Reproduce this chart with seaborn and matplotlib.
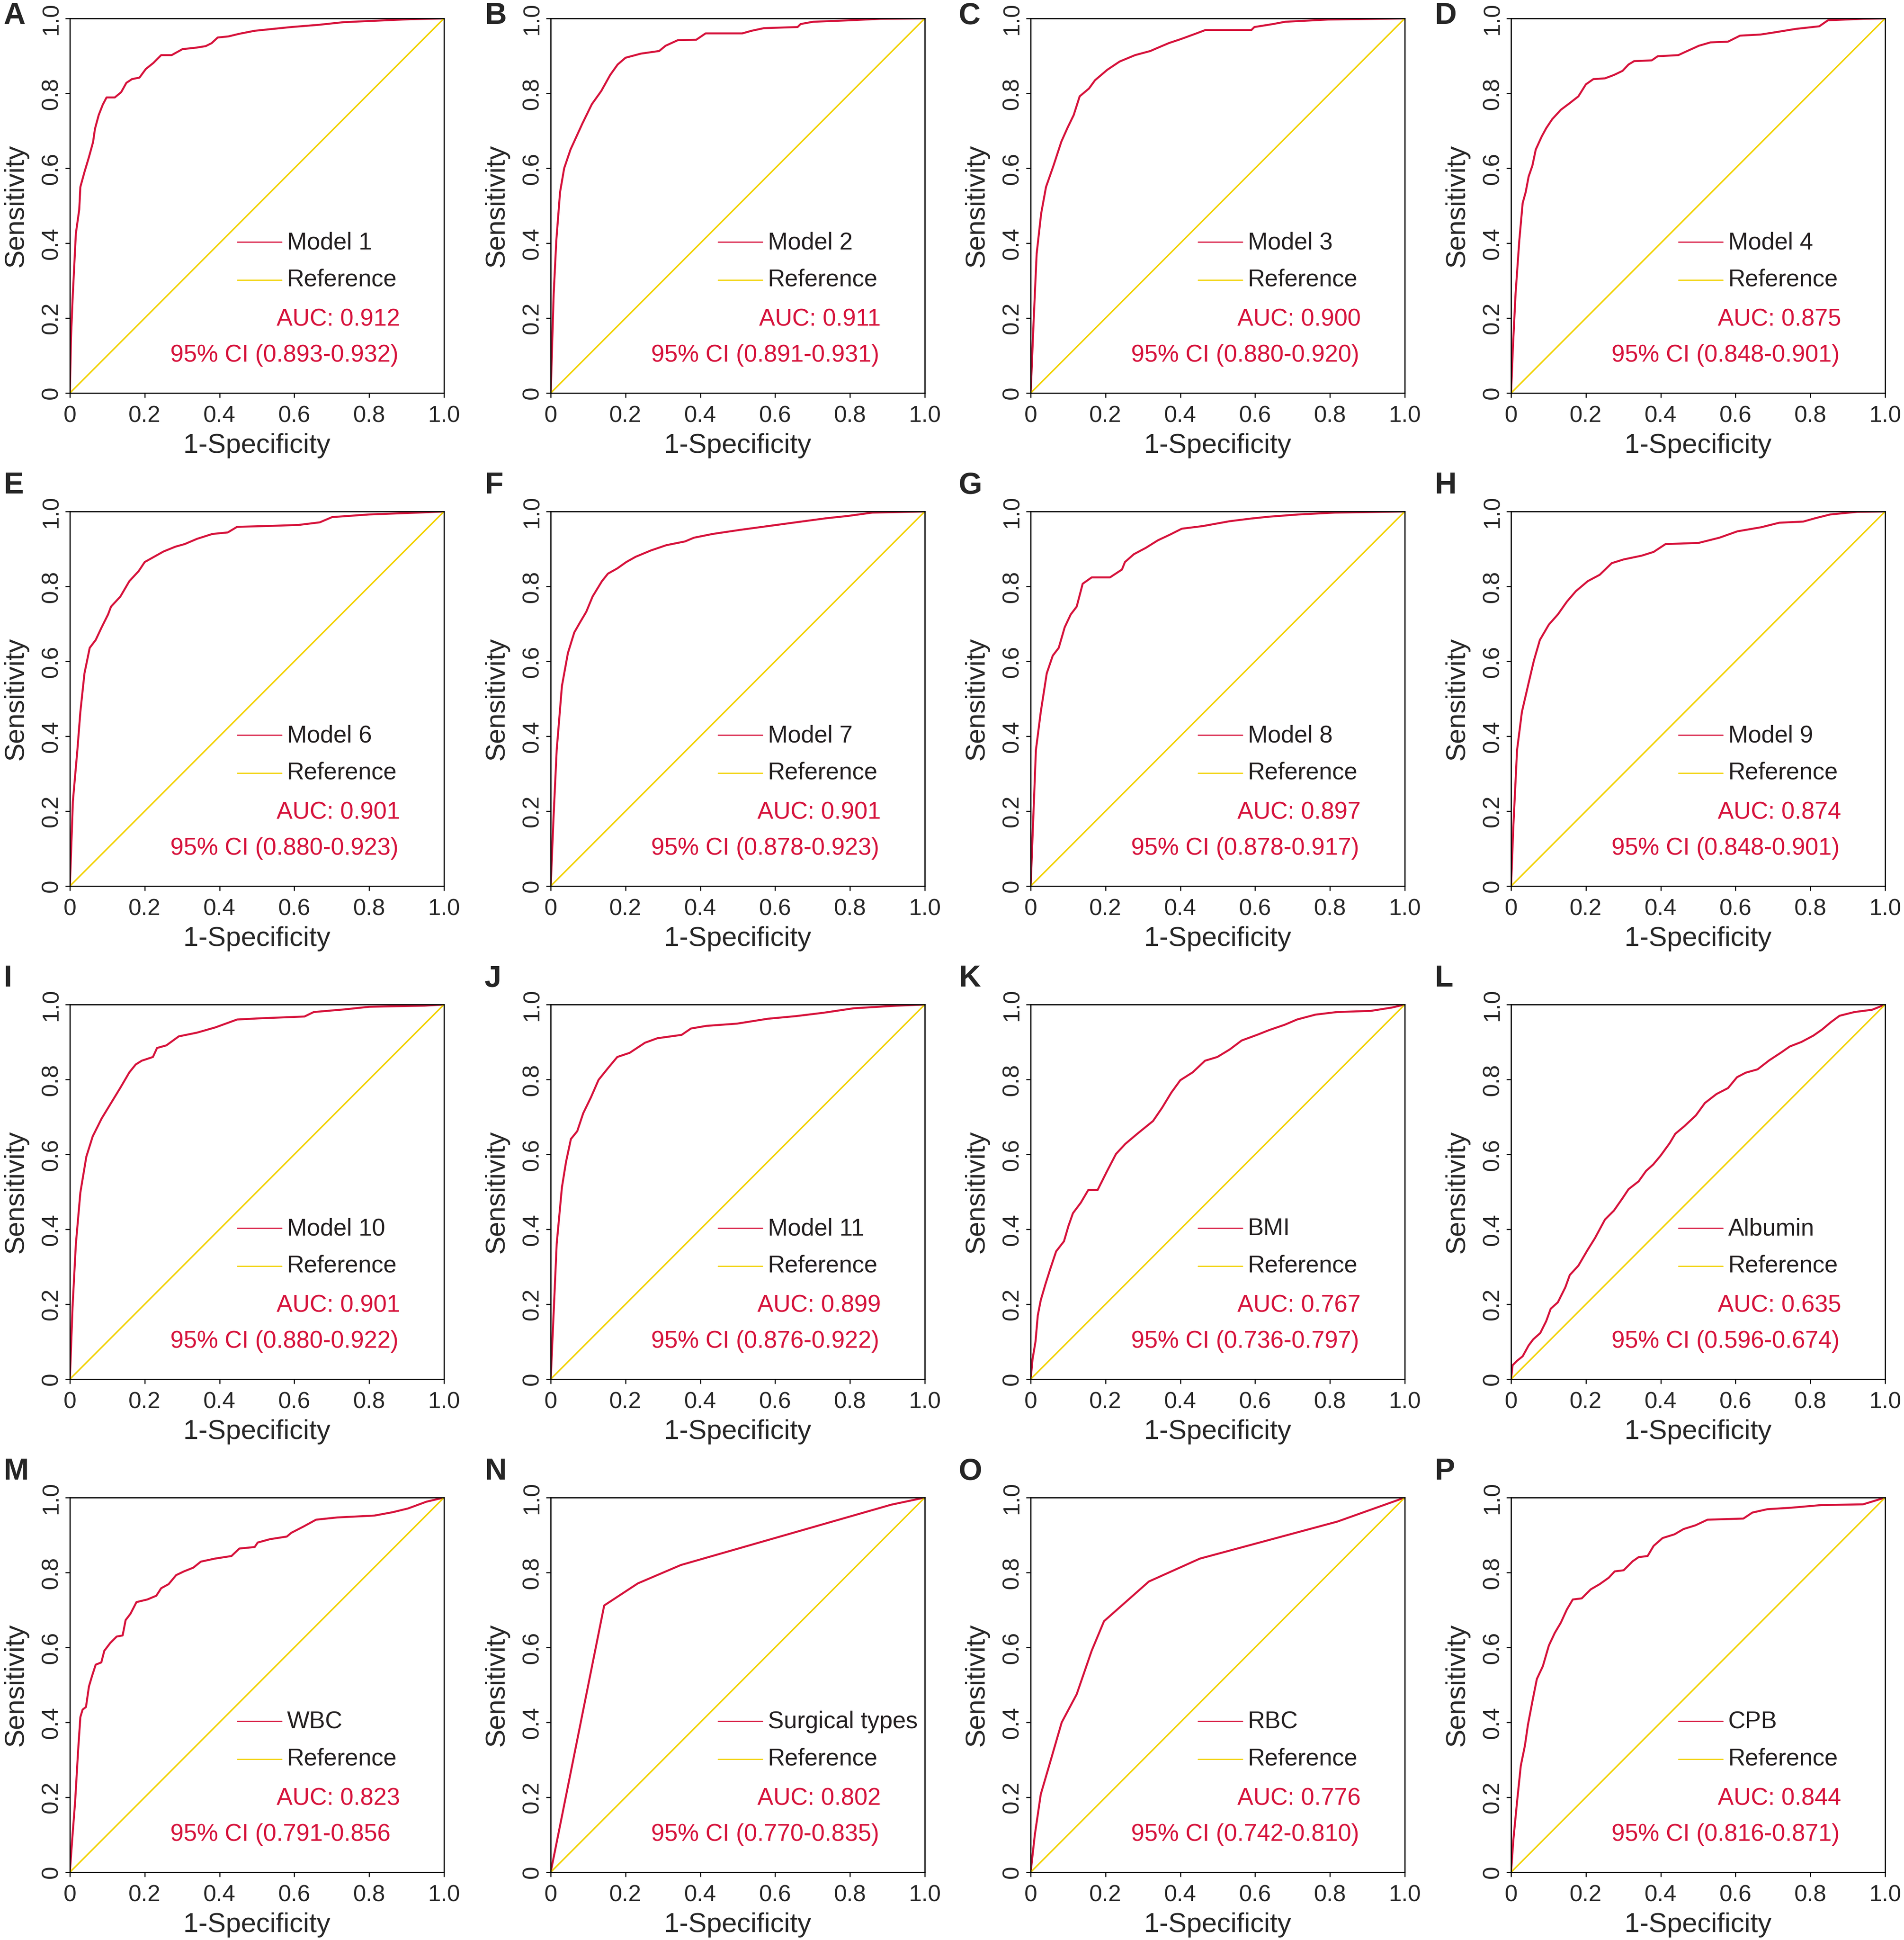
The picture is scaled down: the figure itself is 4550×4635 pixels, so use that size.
import matplotlib
matplotlib.use('Agg')
import matplotlib.pyplot as plt
import seaborn as sns

RED = '#D6123B'
YELLOW = '#F2D200'

# ROC curves, (1-specificity, sensitivity)
A_ROC = [(0, 0), (0.003, 0.148), (0.007, 0.246), (0.016, 0.426), (0.025, 0.49), (0.028, 0.55),
         (0.039, 0.59), (0.051, 0.63), (0.062, 0.67), (0.067, 0.705), (0.077, 0.742), (0.088, 0.77),
         (0.098, 0.789), (0.12, 0.789), (0.137, 0.803), (0.151, 0.828), (0.166, 0.838), (0.186, 0.842),
         (0.203, 0.865), (0.223, 0.881), (0.244, 0.902), (0.272, 0.902), (0.301, 0.918), (0.338, 0.922),
         (0.363, 0.926), (0.379, 0.934), (0.395, 0.949), (0.424, 0.952), (0.453, 0.959), (0.494, 0.967),
         (0.543, 0.972), (0.592, 0.977), (0.666, 0.983), (0.732, 0.99), (0.912, 0.998), (1, 1)]
B_ROC = [(0, 0), (0.008, 0.265), (0.015, 0.407), (0.025, 0.536), (0.036, 0.60), (0.053, 0.65),
         (0.069, 0.685), (0.085, 0.72), (0.11, 0.771), (0.135, 0.806), (0.159, 0.849), (0.179, 0.877),
         (0.2, 0.895), (0.241, 0.906), (0.29, 0.913), (0.307, 0.927), (0.34, 0.942), (0.389, 0.943),
         (0.414, 0.96), (0.512, 0.96), (0.537, 0.967), (0.57, 0.974), (0.66, 0.977), (0.668, 0.985),
         (0.701, 0.991), (0.80, 0.995), (0.882, 0.999), (1, 1)]
C_ROC = [(0, 0), (0.008, 0.194), (0.016, 0.372), (0.028, 0.479), (0.041, 0.55), (0.061, 0.607),
         (0.082, 0.671), (0.098, 0.707), (0.115, 0.742), (0.131, 0.792), (0.156, 0.813), (0.172, 0.835),
         (0.205, 0.863), (0.238, 0.885), (0.279, 0.902), (0.32, 0.913), (0.336, 0.92), (0.369, 0.934),
         (0.402, 0.945), (0.443, 0.96), (0.467, 0.969), (0.59, 0.969), (0.598, 0.977), (0.648, 0.985),
         (0.68, 0.991), (0.795, 0.997), (1, 1)]
D_ROC = [(0, 0), (0.005, 0.123), (0.012, 0.265), (0.022, 0.407), (0.031, 0.507), (0.039, 0.536),
         (0.047, 0.578), (0.057, 0.607), (0.066, 0.65), (0.082, 0.685), (0.094, 0.707), (0.11, 0.731),
         (0.133, 0.756), (0.157, 0.774), (0.18, 0.792), (0.2, 0.824), (0.22, 0.838), (0.251, 0.84),
         (0.275, 0.849), (0.298, 0.86), (0.314, 0.877), (0.329, 0.886), (0.376, 0.888), (0.392, 0.899),
         (0.447, 0.902), (0.471, 0.913), (0.502, 0.927), (0.533, 0.936), (0.58, 0.938), (0.612, 0.954),
         (0.667, 0.957), (0.706, 0.963), (0.761, 0.972), (0.824, 0.979), (0.847, 0.995), (0.941, 0.999),
         (1, 1)]
E_ROC = [(0, 0), (0.008, 0.226), (0.02, 0.363), (0.028, 0.465), (0.039, 0.568), (0.053, 0.636),
         (0.069, 0.657), (0.085, 0.691), (0.102, 0.725), (0.11, 0.746), (0.135, 0.773), (0.159, 0.814),
         (0.184, 0.841), (0.2, 0.865), (0.225, 0.879), (0.25, 0.893), (0.282, 0.906), (0.307, 0.913),
         (0.34, 0.927), (0.381, 0.94), (0.422, 0.944), (0.447, 0.959), (0.521, 0.961), (0.611, 0.964),
         (0.668, 0.971), (0.701, 0.985), (0.80, 0.992), (0.931, 0.997), (1, 1)]
F_ROC = [(0, 0), (0.008, 0.192), (0.016, 0.363), (0.03, 0.534), (0.046, 0.622), (0.063, 0.677),
         (0.079, 0.705), (0.095, 0.732), (0.112, 0.773), (0.137, 0.814), (0.153, 0.834), (0.178, 0.848),
         (0.202, 0.865), (0.227, 0.879), (0.268, 0.896), (0.309, 0.91), (0.359, 0.92), (0.383, 0.93),
         (0.433, 0.94), (0.507, 0.951), (0.581, 0.961), (0.655, 0.971), (0.737, 0.982), (0.794, 0.988),
         (0.86, 0.997), (1, 1)]
G_ROC = [(0, 0), (0.006, 0.157), (0.014, 0.363), (0.027, 0.465), (0.043, 0.568), (0.059, 0.615),
         (0.075, 0.636), (0.091, 0.691), (0.107, 0.725), (0.123, 0.746), (0.139, 0.807), (0.163, 0.824),
         (0.212, 0.824), (0.244, 0.845), (0.252, 0.865), (0.276, 0.886), (0.308, 0.903), (0.34, 0.923),
         (0.372, 0.938), (0.404, 0.954), (0.46, 0.961), (0.532, 0.974), (0.588, 0.981), (0.636, 0.986),
         (0.716, 0.992), (0.813, 0.997), (1, 1)]
H_ROC = [(0, 0), (0.006, 0.157), (0.016, 0.363), (0.029, 0.465), (0.045, 0.534), (0.061, 0.602),
         (0.077, 0.657), (0.101, 0.698), (0.125, 0.725), (0.149, 0.759), (0.173, 0.787), (0.205, 0.814),
         (0.237, 0.831), (0.269, 0.862), (0.301, 0.872), (0.349, 0.882), (0.381, 0.892), (0.413, 0.913),
         (0.501, 0.916), (0.557, 0.93), (0.605, 0.947), (0.669, 0.958), (0.717, 0.97), (0.781, 0.973),
         (0.813, 0.982), (0.853, 0.992), (0.925, 0.999), (1, 1)]
I_ROC = [(0, 0), (0.007, 0.19), (0.016, 0.361), (0.028, 0.498), (0.044, 0.594), (0.061, 0.648),
         (0.085, 0.696), (0.11, 0.737), (0.135, 0.778), (0.159, 0.819), (0.176, 0.84), (0.192, 0.85),
         (0.222, 0.86), (0.233, 0.884), (0.258, 0.891), (0.291, 0.915), (0.34, 0.925), (0.389, 0.939),
         (0.447, 0.96), (0.504, 0.963), (0.627, 0.968), (0.652, 0.98), (0.734, 0.987), (0.80, 0.994),
         (0.947, 0.997), (1, 1)]
J_ROC = [(0, 0), (0.007, 0.156), (0.016, 0.361), (0.03, 0.512), (0.041, 0.58), (0.054, 0.641),
         (0.071, 0.662), (0.087, 0.71), (0.107, 0.751), (0.128, 0.799), (0.153, 0.83), (0.178, 0.86),
         (0.211, 0.871), (0.252, 0.898), (0.285, 0.91), (0.35, 0.919), (0.375, 0.936), (0.416, 0.943),
         (0.498, 0.949), (0.58, 0.962), (0.655, 0.969), (0.729, 0.978), (0.81, 0.99), (0.926, 0.997),
         (1, 1)]
K_ROC = [(0, 0), (0.005, 0.053), (0.013, 0.101), (0.019, 0.17), (0.027, 0.211), (0.039, 0.252),
         (0.052, 0.293), (0.068, 0.341), (0.089, 0.368), (0.101, 0.409), (0.113, 0.443), (0.134, 0.471),
         (0.154, 0.505), (0.179, 0.505), (0.203, 0.553), (0.228, 0.601), (0.253, 0.628), (0.285, 0.655),
         (0.327, 0.689), (0.351, 0.724), (0.376, 0.765), (0.4, 0.798), (0.433, 0.819), (0.466, 0.85),
         (0.499, 0.86), (0.532, 0.88), (0.564, 0.904), (0.605, 0.919), (0.638, 0.932), (0.679, 0.946),
         (0.712, 0.96), (0.761, 0.973), (0.819, 0.98), (0.909, 0.983), (0.966, 0.992), (1, 1)]
L_ROC = [(0, 0), (0.004, 0.037), (0.016, 0.049), (0.031, 0.061), (0.047, 0.09), (0.059, 0.106),
         (0.078, 0.123), (0.094, 0.155), (0.106, 0.188), (0.125, 0.205), (0.145, 0.245), (0.157, 0.278),
         (0.18, 0.303), (0.204, 0.344), (0.224, 0.376), (0.251, 0.426), (0.275, 0.45), (0.298, 0.483),
         (0.314, 0.507), (0.341, 0.528), (0.361, 0.556), (0.38, 0.573), (0.4, 0.597), (0.424, 0.63),
         (0.439, 0.655), (0.463, 0.675), (0.494, 0.704), (0.518, 0.737), (0.549, 0.761), (0.58, 0.777),
         (0.604, 0.806), (0.627, 0.818), (0.659, 0.827), (0.69, 0.851), (0.722, 0.872), (0.745, 0.888),
         (0.776, 0.9), (0.808, 0.917), (0.831, 0.933), (0.855, 0.953), (0.878, 0.97), (0.918, 0.98),
         (0.965, 0.986), (1, 1)]
M_ROC = [(0, 0), (0.006, 0.085), (0.014, 0.188), (0.022, 0.325), (0.028, 0.414), (0.034, 0.434),
         (0.043, 0.441), (0.051, 0.496), (0.059, 0.523), (0.069, 0.554), (0.084, 0.56), (0.092, 0.591),
         (0.108, 0.612), (0.125, 0.629), (0.141, 0.632), (0.149, 0.673), (0.162, 0.69), (0.178, 0.721),
         (0.207, 0.728), (0.231, 0.738), (0.244, 0.758), (0.264, 0.769), (0.284, 0.793), (0.305, 0.803),
         (0.33, 0.813), (0.35, 0.829), (0.387, 0.837), (0.432, 0.844), (0.453, 0.864), (0.494, 0.868),
         (0.502, 0.88), (0.535, 0.889), (0.58, 0.896), (0.592, 0.906), (0.625, 0.923), (0.658, 0.941),
         (0.715, 0.947), (0.814, 0.952), (0.863, 0.961), (0.904, 0.971), (0.953, 0.989), (1, 1)]
N_ROC = [(0, 0), (0.143, 0.712), (0.233, 0.771), (0.348, 0.82), (0.91, 0.981), (1, 1)]
O_ROC = [(0, 0), (0.011, 0.099), (0.027, 0.208), (0.051, 0.29), (0.083, 0.4), (0.123, 0.475),
         (0.163, 0.591), (0.196, 0.67), (0.316, 0.776), (0.452, 0.837), (0.82, 0.936), (1, 1)]
P_ROC = [(0, 0), (0.006, 0.085), (0.016, 0.188), (0.026, 0.284), (0.037, 0.338), (0.045, 0.393),
         (0.058, 0.461), (0.069, 0.516), (0.085, 0.55), (0.101, 0.605), (0.117, 0.639), (0.133, 0.666),
         (0.149, 0.701), (0.165, 0.728), (0.189, 0.731), (0.213, 0.755), (0.237, 0.769), (0.261, 0.786),
         (0.277, 0.803), (0.301, 0.806), (0.325, 0.83), (0.341, 0.841), (0.365, 0.844), (0.381, 0.871),
         (0.405, 0.892), (0.437, 0.902), (0.461, 0.916), (0.493, 0.926), (0.525, 0.941), (0.621, 0.944),
         (0.645, 0.96), (0.685, 0.969), (0.749, 0.973), (0.829, 0.98), (0.941, 0.982), (1, 1)]

LETTERS = list('ABCDEFGHIJKLMNOP')
NAMES = ['Model 1', 'Model 2', 'Model 3', 'Model 4',
         'Model 6', 'Model 7', 'Model 8', 'Model 9',
         'Model 10', 'Model 11', 'BMI', 'Albumin',
         'WBC', 'Surgical types', 'RBC', 'CPB']
AUC = ['0.912', '0.911', '0.900', '0.875',
       '0.901', '0.901', '0.897', '0.874',
       '0.901', '0.899', '0.767', '0.635',
       '0.823', '0.802', '0.776', '0.844']
CI = ['(0.893-0.932)', '(0.891-0.931)', '(0.880-0.920)', '(0.848-0.901)',
      '(0.880-0.923)', '(0.878-0.923)', '(0.878-0.917)', '(0.848-0.901)',
      '(0.880-0.922)', '(0.876-0.922)', '(0.736-0.797)', '(0.596-0.674)',
      '(0.791-0.856', '(0.770-0.835)', '(0.742-0.810)', '(0.816-0.871)']
ROCS = [A_ROC, B_ROC, C_ROC, D_ROC, E_ROC, F_ROC, G_ROC, H_ROC,
        I_ROC, J_ROC, K_ROC, L_ROC, M_ROC, N_ROC, O_ROC, P_ROC]
TICKS = [0, 0.2, 0.4, 0.6, 0.8, 1.0]
TICK_LABELS = ['0', '0.2', '0.4', '0.6', '0.8', '1.0']

sns.set_style('ticks')
plt.rcParams['font.family'] = ['Liberation Sans', 'DejaVu Sans']

W, H = 4550, 4635
fig = plt.figure(figsize=(W / 100, H / 100), dpi=100)

col_left = [167, 1316, 2463, 3611]
row_top = [44, 1222, 2400, 3578]
letter_left = [8, 1158, 2291, 3428]
letter_top = [4, 1126, 2304, 3482]
aw, ah = 894, 895

for i, roc in enumerate(ROCS):
    r, c = divmod(i, 4)
    ax = fig.add_axes([col_left[c] / W, 1 - (row_top[r] + ah) / H, aw / W, ah / H])
    fpr = [p[0] for p in roc]
    tpr = [p[1] for p in roc]
    sns.lineplot(x=fpr, y=tpr, ax=ax, color=RED, linewidth=3.4, sort=False, estimator=None)
    sns.lineplot(x=[0, 1], y=[0, 1], ax=ax, color=YELLOW, linewidth=2.6, sort=False, estimator=None)
    ax.set_xlim(0, 1)
    ax.set_ylim(0, 1)
    ax.set_xticks(TICKS)
    ax.set_xticklabels(TICK_LABELS)
    ax.set_yticks(TICKS)
    ax.set_yticklabels(TICK_LABELS, rotation=90, va='center')
    ax.tick_params(length=8, width=1.8, labelsize=40, color='black')
    ax.tick_params(axis='x', pad=13)
    ax.tick_params(axis='y', pad=5)
    for s in ax.spines.values():
        s.set_linewidth(2.0)
        s.set_color('black')
    ax.set_xlabel('1-Specificity', fontsize=47, labelpad=11)
    ax.set_ylabel('Sensitivity', fontsize=47, labelpad=21)

    # legend in the R style: short line plus label
    ax.plot([0.447, 0.566], [0.403, 0.403], transform=ax.transAxes, color=RED, linewidth=2.0)
    ax.plot([0.447, 0.566], [0.302, 0.302], transform=ax.transAxes, color=YELLOW, linewidth=2.0)
    ax.text(0.58, 0.384, NAMES[i], transform=ax.transAxes, fontsize=41, va='baseline', color='#231f20')
    ax.text(0.58, 0.285, 'Reference', transform=ax.transAxes, fontsize=41, va='baseline', color='#231f20')
    ax.text(0.882, 0.179, 'AUC: ' + AUC[i], transform=ax.transAxes, fontsize=41,
            ha='right', va='baseline', color=RED)
    ax.text(0.268, 0.084, '95% CI ' + CI[i], transform=ax.transAxes, fontsize=41,
            ha='left', va='baseline', color=RED)

    fig.text(letter_left[c] / W, 1 - letter_top[r] / H, LETTERS[i], fontsize=52,
             fontweight='bold', ha='left', va='top')

fig.savefig('out.png', dpi=100)
